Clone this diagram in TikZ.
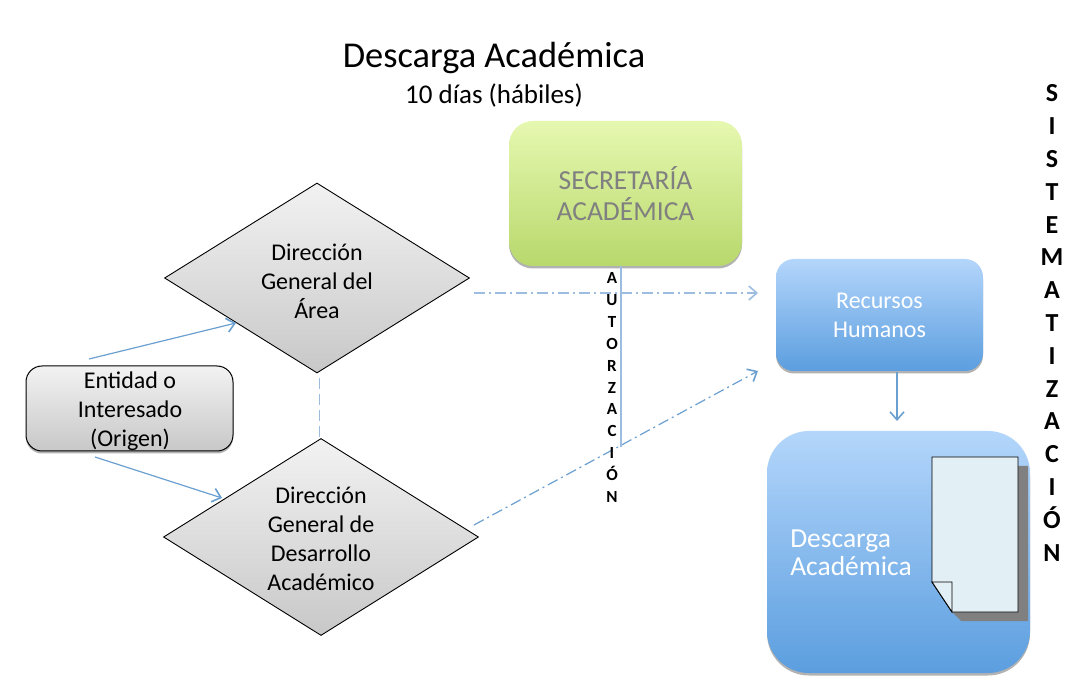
\documentclass[tikz,border=0pt]{standalone}
\usepackage{fontspec}
\setmainfont{Carlito}
\usetikzlibrary{arrows.meta,positioning,shapes.geometric,shadows}
\newcommand{\px}[1]{\fontsize{#1}{#1}\selectfont}

\begin{document}
\begin{tikzpicture}[
  x=1pt, y=-1pt,
  font=\px{24},
  soft/.style={drop shadow={shadow xshift=0pt, shadow yshift=-2.5pt, opacity=.3, fill=black}},
  box/.style={rounded corners=18pt, align=center, inner sep=0pt, soft},
  bluebox/.style={box, draw=none, text=white, top color=bluetop, bottom color=bluebot},
  decision/.style={draw=black, line width=.9pt, diamond, aspect=1.6, inner sep=0pt, align=center, top color=graytop, bottom color=graybot},
  flecha/.style={-{Straight Barb[length=8pt,width=14pt,line width=1.6pt]}, color=flow, line width=1.2pt},
  punto/.style={flecha, dash pattern=on 11pt off 4pt on 2pt off 4pt}
]
\definecolor{flow}{HTML}{6A9FD0}
\definecolor{flowlight}{HTML}{9DBDE0}
\definecolor{bluetop}{HTML}{B4D6FB}
\definecolor{bluebot}{HTML}{5B9EDF}
\definecolor{graytop}{HTML}{F2F2F2}
\definecolor{graybot}{HTML}{C8C8C8}
\definecolor{greentop}{HTML}{E6F8B0}
\definecolor{greenbot}{HTML}{B8D86C}
\definecolor{hojafill}{HTML}{E2EFF5}
\useasboundingbox (0,0) rectangle (1069,684);

\node (titulo) at (494,58) {\px{36.4}Descarga Académica};
\node[below=3pt of titulo] (plazo) {\px{27}10 días (hábiles)};

\node[decision, minimum width=305pt, minimum height=190pt] (area) at (317,278) {};
\node[align=center] (areatxt) at (317,281) {Dirección\\[5pt]General del\\[5pt]Área};
\node[decision, minimum width=315pt, minimum height=197pt] (desarrollo) at (321,537) {};
\node[align=center] (desarrollotxt) at (321,539) {Dirección\\[5pt]General de\\[5pt]Desarrollo\\[5pt]Académico};
\node[box, draw=black, line width=1pt, rounded corners=16pt, top color=graytop, bottom color=graybot,
      minimum width=207pt, minimum height=85pt] (entidad) at (129.5,408.5) {};
\node[align=center] (entidadtxt) at (130,411) {Entidad o\\[5pt]Interesado\\[5pt](Origen)};

\node[box, draw=none, rounded corners=24pt, text=black!50, top color=greentop, bottom color=greenbot,
      minimum width=233pt, minimum height=145pt] (secretaria) at (625.5,193.5)
      {\px{27.5}SECRETARÍA\\[7.5pt]\px{27.5}ACADÉMICA};
\node[bluebox, minimum width=207pt, minimum height=112pt] (recursos) at (879.5,315)
      {Recursos\\[5pt]Humanos};
\node[bluebox, rounded corners=42pt, minimum width=263pt, minimum height=242pt] (descarga) at (898.5,552) {};
\node[align=left, text=white] (descargatxt) at (851,553) {\px{27.5}Descarga\\[4.5pt]\px{27.5}Académica};

% hoja
\coordinate (hoja) at (932,457);
\fill[black!50] (1028,466) -- (1028,621) -- (961,621) -- (952,612) -- (1018,466) -- cycle;
\draw[fill=hojafill, line width=.9pt] (hoja) -- (1018,457) -- (1018,612) -- (952,612) -- (932,582) -- cycle;
\draw[fill=hojafill, line width=.9pt] (932,582) -- (952,582) -- (952,612) -- cycle;

% extremos libres
\coordinate (e1) at (89,359);
\coordinate (a1) at (236,323);
\coordinate (e2) at (95,457);
\coordinate (d2) at (222,498);
\coordinate (a2) at (319,378);
\coordinate (d1) at (319,438);
\coordinate (a3) at (474,293);
\coordinate (r1) at (758,293);
\coordinate (d3) at (474,525);
\coordinate (r2) at (758,371);
\coordinate (s1) at (621,266);
\coordinate (s2) at (621,447);
\coordinate (r3) at (897,372);
\coordinate (f1) at (897,421);

\draw[flecha] (e1) -- (a1);
\draw[flecha] (e2) -- (d2);
\draw[color=flowlight, line width=1pt, dash pattern=on 11pt off 5pt] (a2) -- (d1);
\draw[punto, color=flowlight, line width=1.6pt] (a3) -- (r1);
\draw[punto] (d3) -- (r2);
\draw[color=flowlight, line width=2pt] (s1) -- (s2);
\draw[flecha] (r3) -- (f1);

\node[font=\px{17}\bfseries, align=center, inner sep=0pt] (autorizacion) at (612,387.5) {%
  A\\[4.9pt]U\\[4.9pt]T\\[4.9pt]O\\[4.9pt]R\\[4.9pt]Z\\[4.9pt]A\\[4.9pt]C\\[4.9pt]I\\[4.9pt]Ó\\[4.9pt]N};
\node[font=\px{26}\bfseries, align=center, inner sep=0pt] (sistematizacion) at (1052,323) {%
  S\\[6.8pt]I\\[6.8pt]S\\[6.8pt]T\\[6.8pt]E\\[6.8pt]M\\[6.8pt]A\\[6.8pt]T\\[6.8pt]I\\[6.8pt]Z\\[6.8pt]A\\[6.8pt]C\\[6.8pt]I\\[6.8pt]Ó\\[6.8pt]N};
\end{tikzpicture}
\end{document}
